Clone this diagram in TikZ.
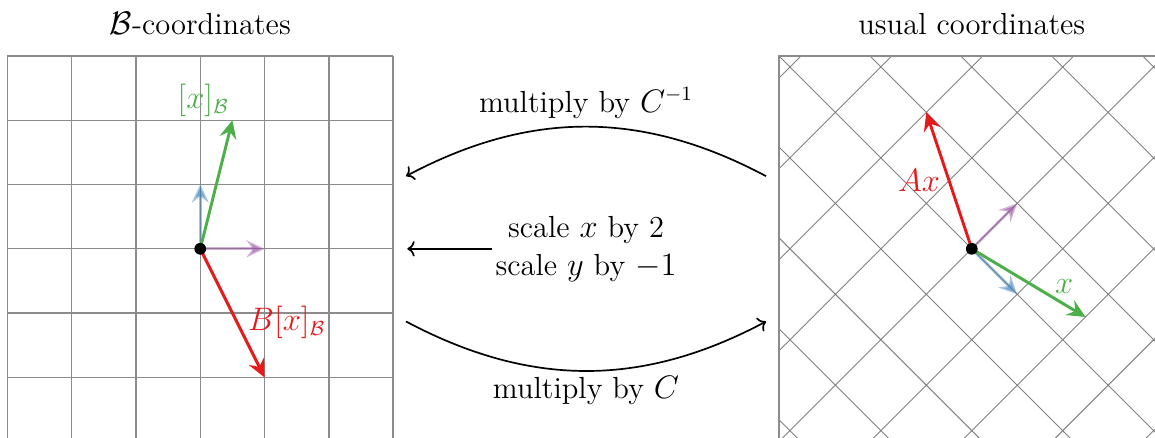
\documentclass[tikz,border=0pt]{standalone}
\usetikzlibrary{arrows.meta}
\definecolor{vecred}{RGB}{228,26,28}
\definecolor{vecgreen}{RGB}{77,175,74}
\definecolor{vecblue}{RGB}{55,126,184}
\definecolor{vecpurple}{RGB}{152,78,163}
\begin{document}
\begin{tikzpicture}[
    font=\fontsize{13.5}{17}\selectfont,
    vec/.style={line width=1.3pt, -{Stealth[length=8pt,width=7.5pt,inset=2.8pt]}},
    basisvec/.style={vec, opacity=.45},
    maparrow/.style={line width=.75pt, ->},
    gridline/.style={black!45, line width=.6pt},
  ]
    \useasboundingbox (-3.115,-2.94) rectangle (14.85,3.87);
    % left panel: B-coordinates
    \coordinate (O1) at (0,0);
    \coordinate (e1) at (1,0);
    \coordinate (e2) at (0,1);
    \coordinate (xB) at (0.5,2);
    \coordinate (BxB) at (1,-2);
    \draw[gridline] (-3,-3) grid (3,3);
    \node (titleB) at (0,3.5) {$\mathcal{B}$-coordinates};
    \draw[basisvec, vecblue] (O1) -- (e2);
    \draw[basisvec, vecpurple] (O1) -- (e1);
    \draw[vec, vecgreen] (O1) -- (xB) node[anchor=south east, inner sep=1pt] (xBlabel) {$[x]_{\mathcal{B}}$};
    \draw[vec, vecred] (O1) -- (BxB) node[pos=0.57, right=1pt] (BxBlabel) {$B[x]_{\mathcal{B}}$};
    \fill (O1) circle (2.6pt);
    % right panel: usual coordinates
    \coordinate (O2) at (12,0);
    \begin{scope}[shift={(12,0)}, rotate=45]
      \coordinate (v1) at (1,0);
      \coordinate (v2) at (0,-1);
      \coordinate (xU) at (0.5,-2);
      \coordinate (AxU) at (1,2);
    \end{scope}
    \begin{scope}
      \clip (9,-3) rectangle (15,3);
      \draw[black!50, line width=.4pt, shift={(12,0)}, rotate=45] (-6,-6) grid (6,6);
    \end{scope}
    \draw[gridline] (9,-3) rectangle (15,3);
    \node (titleU) at (12,3.5) {usual coordinates};
    \draw[basisvec, vecpurple] (O2) -- (v1);
    \draw[basisvec, vecblue] (O2) -- (v2);
    \draw[vec, vecgreen] (O2) -- (xU) node[pos=0.68, anchor=south west, inner sep=0pt, xshift=2pt] (xUlabel) {$x$};
    \draw[vec, vecred] (O2) -- (AxU) node[pos=0.5, left=0pt] (AxUlabel) {$Ax$};
    \fill (O2) circle (2.6pt);
    % maps between the two
    \coordinate (topR) at (8.8,1.13);
    \coordinate (topL) at (3.2,1.13);
    \coordinate (botL) at (3.2,-1.13);
    \coordinate (botR) at (8.8,-1.13);
    \coordinate (midL) at (3.22,0);
    \draw[maparrow] (topR) to[bend right=28] (topL);
    \node (invlabel) at (6,2.27) {multiply by $C^{-1}$};
    \node[align=center, inner sep=1.5pt] (scalelabel) at (6,0) {scale $x$ by 2\\scale $y$ by $-1$};
    \draw[maparrow] (scalelabel) -- (midL);
    \draw[maparrow] (botL) to[bend right=28] (botR);
    \node (fwdlabel) at (6,-2.2) {multiply by $C$};
\end{tikzpicture}
\end{document}
